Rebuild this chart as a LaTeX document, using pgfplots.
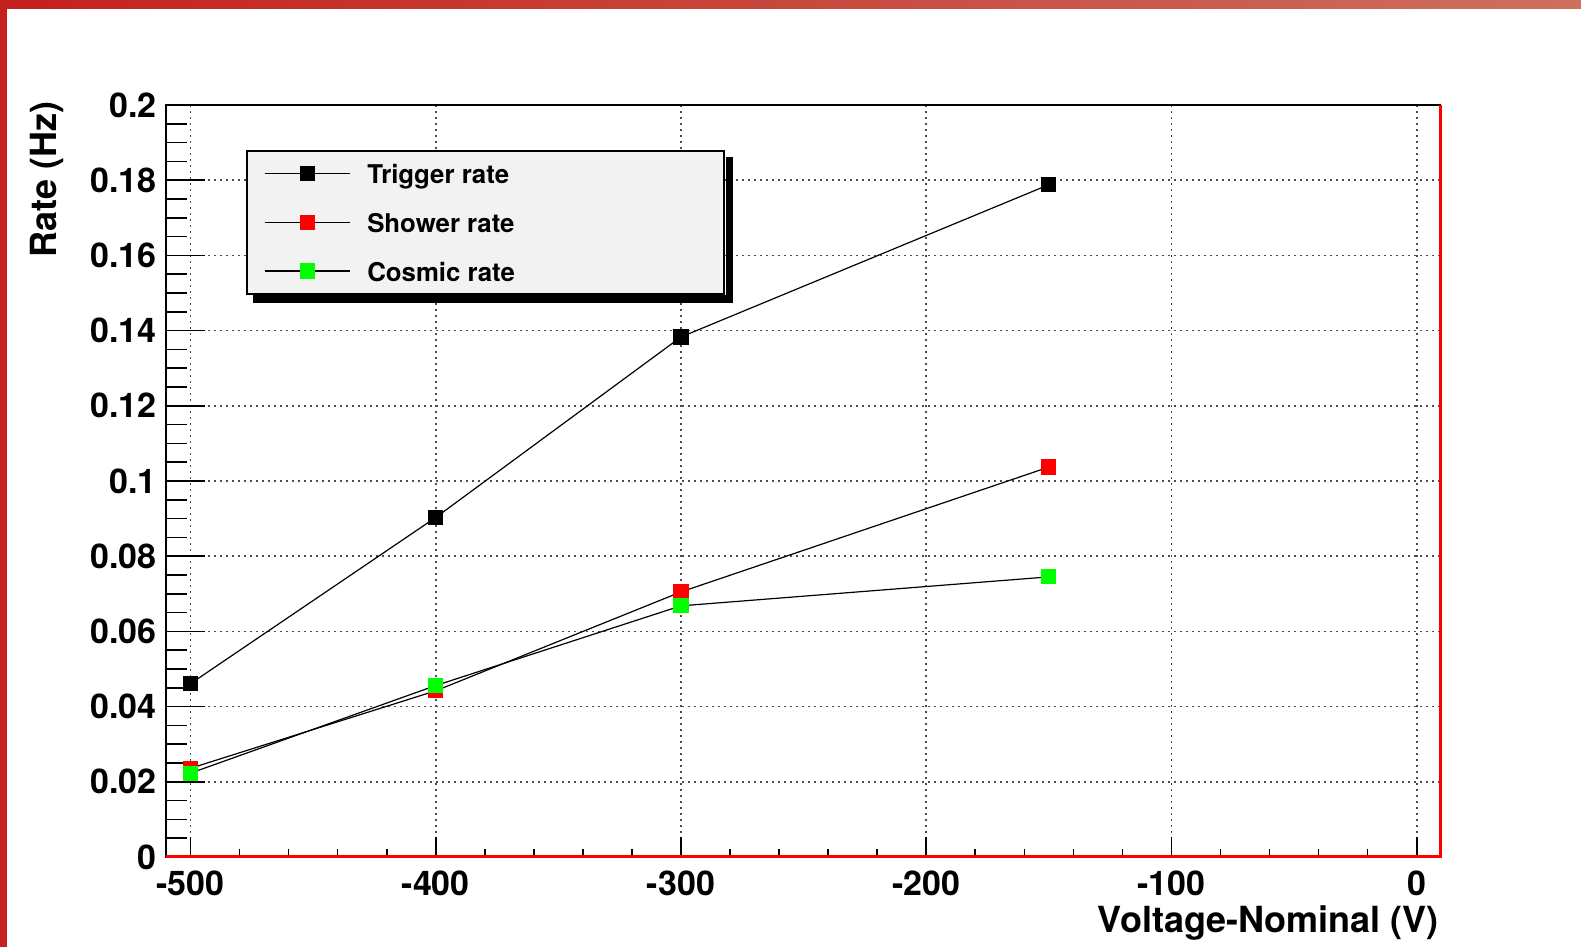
\documentclass[border=0pt]{standalone}
\usepackage{fontspec}
\setmainfont{TeX Gyre Heros}
\usepackage{pgfplots}
\pgfplotsset{compat=1.18}
\definecolor{rootred}{RGB}{255,0,0}
\definecolor{rootgreen}{RGB}{0,255,0}
\definecolor{slidered}{RGB}{196,32,32}
\definecolor{slidesalmon}{RGB}{205,112,92}
\definecolor{legfill}{RGB}{242,242,242}
\begin{document}
\begin{tikzpicture}
\useasboundingbox (0,0) rectangle (790.5pt,473.5pt);
\fill[slidered] (0,0) rectangle (3.5pt,473.5pt);
\shade[left color=slidered, right color=slidesalmon] (0,469pt) rectangle (790.5pt,473.5pt);
\begin{axis}[
  at={(83pt,45pt)}, anchor=south west,
  scale only axis, width=637pt, height=376pt,
  xmin=-510, xmax=9.5, ymin=0, ymax=0.2,
  clip=false,
  xtick={-500,-400,-300,-200,-100,0},
  xticklabels={-500,-400,-300,-200,-100,0},
  minor x tick num=4,
  ytick={0,0.02,0.04,0.06,0.08,0.1,0.12,0.14,0.16,0.18,0.2},
  yticklabels={0,0.02,0.04,0.06,0.08,0.1,0.12,0.14,0.16,0.18,0.2},
  minor y tick num=3,
  tick align=inside, tick pos=left,
  grid=major,
  major grid style={line width=0.8pt, dash pattern=on 0.8pt off 2.2pt, black!70},
  tick style={black, line width=0.8pt},
  xtick style={/pgfplots/major tick length=10pt,/pgfplots/minor tick length=4pt},
  ytick style={/pgfplots/major tick length=19.5pt,/pgfplots/minor tick length=10.5pt},
  ticklabel style={font=\fontsize{17}{20}\selectfont\bfseries, inner sep=0pt},
  xticklabel style={yshift=-6.5pt},
  yticklabel style={xshift=-4.5pt},
  xlabel={Voltage-Nominal (V)}, ylabel={Rate (Hz)},
  label style={font=\fontsize{18}{21}\selectfont\bfseries, inner sep=0pt},
  xlabel style={at={(rel axis cs:0.9995,-0.101)}, anchor=base east},
  ylabel style={at={(rel axis cs:-0.0859,1.005)}, anchor=base east},
  axis line style={line width=1.2pt, black},
  legend cell align=left,
  legend image code/.code={\draw[mark repeat=2,mark phase=2,#1] plot coordinates {(0pt,0pt) (21.25pt,0pt) (42.5pt,0pt)};},
  legend style={name=leg, at={(0.063,0.940)}, anchor=north west, draw=black, line width=0.8pt,
    fill=legfill,
    font=\fontsize{12.9}{15}\selectfont\bfseries,
    inner xsep=8.5pt, inner ysep=4.8pt, row sep=11.1pt,
    nodes={inner sep=0pt}},
  after end axis/.code={
    \draw[rootred, line width=1.5pt] (rel axis cs:0,0) -- (rel axis cs:1,0) -- (rel axis cs:1,1);
  },
]
\addplot[black, line width=0.6pt, mark=square*, mark size=3.5pt, mark options={draw=black, fill=black, solid}]
  coordinates {(-500,0.0461) (-400,0.0903) (-300,0.1383) (-150,0.1788)};
\addlegendentry{\makebox[178.5pt][l]{\rule[-2.7pt]{0pt}{14.4pt}\hspace{8.5pt}Trigger rate}}
\addplot[black, line width=0.6pt, mark=square*, mark size=3.5pt, mark options={draw=rootred, fill=rootred, solid}]
  coordinates {(-500,0.0236) (-400,0.0442) (-300,0.0705) (-150,0.1037)};
\addlegendentry{\makebox[178.5pt][l]{\rule[-2.7pt]{0pt}{14.4pt}\hspace{8.5pt}Shower rate}}
\addplot[black, line width=0.6pt, mark=square*, mark size=3.5pt, mark options={draw=rootgreen, fill=rootgreen, solid}]
  coordinates {(-500,0.0223) (-400,0.0456) (-300,0.0668) (-150,0.0745)};
\addlegendentry{\makebox[178.5pt][l]{\rule[-2.7pt]{0pt}{14.4pt}\hspace{8.5pt}Cosmic rate}}
\end{axis}
\fill[black] ([shift={(0.4pt,-3.5pt)}]leg.north east) rectangle ([shift={(4pt,-4pt)}]leg.south east);
\fill[black] ([shift={(3.5pt,-0.4pt)}]leg.south west) rectangle ([shift={(4pt,-4pt)}]leg.south east);
\end{tikzpicture}
\end{document}
